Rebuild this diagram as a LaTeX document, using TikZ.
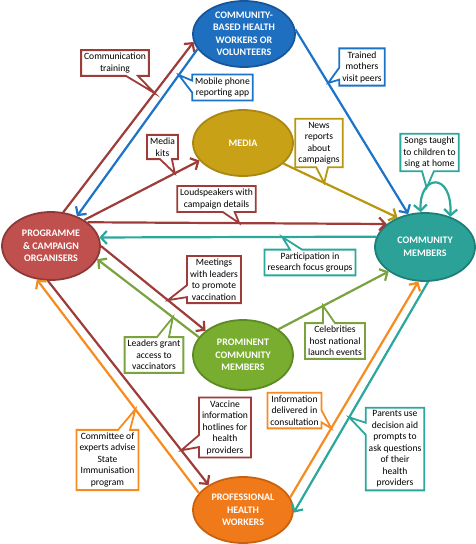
\documentclass[tikz,border=0pt]{standalone}
\usepackage{fontspec}
\setmainfont{Carlito}
\usetikzlibrary{shapes.geometric,shapes.callouts,arrows.meta}

\definecolor{chwfill}{HTML}{1F6FC1}
\definecolor{chwdark}{HTML}{17569A}
\definecolor{chwline}{HTML}{1B74C8}
\definecolor{progfill}{HTML}{C0504D}
\definecolor{progdark}{HTML}{8C3A37}
\definecolor{progline}{HTML}{9E3C39}
\definecolor{mediafill}{HTML}{C9A116}
\definecolor{mediadark}{HTML}{A88810}
\definecolor{medialine}{HTML}{B8960F}
\definecolor{commfill}{HTML}{2BA198}
\definecolor{commdark}{HTML}{1E7F78}
\definecolor{commline}{HTML}{2BA79B}
\definecolor{promfill}{HTML}{78AD2F}
\definecolor{promdark}{HTML}{5E8A25}
\definecolor{promline}{HTML}{7AA33D}
\definecolor{proffill}{HTML}{F07A1A}
\definecolor{profdark}{HTML}{C9620F}
\definecolor{profline}{HTML}{F68B1F}

\begin{document}
\begin{tikzpicture}[x=1pt,y=-1pt]
  \tikzstyle{actor}  = [ellipse,inner sep=0pt,line width=1.8pt,text=white,align=center,
                        font=\bfseries\fontsize{10}{12.5}\selectfont]
  \tikzstyle{chwV}   = [actor,draw=chwdark,fill=chwfill,minimum width=102pt,minimum height=66pt]
  \tikzstyle{progV}  = [actor,draw=progdark,fill=progfill,minimum width=98pt,minimum height=68pt]
  \tikzstyle{mediaV} = [actor,draw=mediadark,fill=mediafill,minimum width=100pt,minimum height=66pt]
  \tikzstyle{commV}  = [actor,draw=commdark,fill=commfill,minimum width=100pt,minimum height=68pt]
  \tikzstyle{promV}  = [actor,draw=promdark,fill=promfill,minimum width=100pt,minimum height=70pt]
  \tikzstyle{profV}  = [actor,draw=profdark,fill=proffill,minimum width=100pt,minimum height=66pt]
  \tikzstyle{link}   = [line width=2.2pt,-{Straight Barb[length=6pt,width=13pt]}]
  \tikzstyle{chwE}   = [link,draw=chwline]
  \tikzstyle{progE}  = [link,draw=progline]
  \tikzstyle{mediaE} = [link,draw=medialine]
  \tikzstyle{commE}  = [link,draw=commline]
  \tikzstyle{promE}  = [link,draw=promline]
  \tikzstyle{profE}  = [link,draw=profline]
  \tikzstyle{note}   = [rectangle callout,fill=white,line width=1.8pt,inner xsep=3pt,inner ysep=3pt,
                        align=center,text=black,font=\fontsize{9.6}{11.5}\selectfont,
                        callout pointer width=12pt]
  \tikzstyle{chwC}   = [note,draw=chwline]
  \tikzstyle{progC}  = [note,draw=progline]
  \tikzstyle{mediaC} = [note,draw=medialine]
  \tikzstyle{commC}  = [note,draw=commline]
  \tikzstyle{promC}  = [note,draw=promline]
  \tikzstyle{profC}  = [note,draw=profline]
  \useasboundingbox (0,0) rectangle (475,544);
  % actors
  \path (244, 34) node[chwV](chw)     {COMMUNITY-\\BASED HEALTH\\WORKERS OR\\VOLUNTEERS};
  \path (51, 246) node[progV](prog)   {PROGRAMME\\\& CAMPAIGN\\ORGANISERS};
  \path (243,143) node[mediaV](media) {MEDIA};
  \path (425,247) node[commV](comm)   {COMMUNITY\\MEMBERS};
  \path (243,355) node[promV](prom)   {PROMINENT\\COMMUNITY\\MEMBERS};
  \path (243,510) node[profV](prof)   {PROFESSIONAL\\HEALTH\\WORKERS};
  % links between actors
  \draw[progE]  (prog.70)   -- (chw.189)   coordinate[pos=0.70]  (p1);
  \draw[chwE]   (chw.198)   -- (prog.49)   coordinate[pos=0.155] (p2);
  \draw[progE]  (prog.38)   -- (media.202) coordinate[pos=0.786] (p3);
  \draw[mediaE] (media.333) -- (comm.133)  coordinate[pos=0.357] (p4);
  \draw[chwE]   (chw.5)     -- (comm.117)  coordinate[pos=0.29]  (p5);
  \draw[commE,{Straight Barb[length=6pt,width=13pt]}-{Straight Barb[length=6pt,width=13pt]}]
        (comm.97) .. controls +(-2,-38) and +(2,-46) .. (comm.50) coordinate[pos=0.3] (p6);
  \draw[progE]  (prog.33)   -- (comm.149)  coordinate[pos=0.507] (p7);
  \draw[commE]  (comm.168)  -- (prog.10)   coordinate[pos=0.34]  (p8);
  \draw[progE]  (prog.0)    -- (prom.147)  coordinate[pos=0.64]  (p9);
  \draw[promE]  (prom.158)  -- (prog.344)  coordinate[pos=0.255] (p10);
  \draw[promE]  (prom.36)   -- (comm.214)  coordinate[pos=0.405] (p11);
  \draw[progE]  (prog.265)  -- (prof.144)  coordinate[pos=0.83]  (p12);
  \draw[profE]  (prof.159)  -- (prog.247)  coordinate[pos=0.392] (p13);
  \draw[profE]  (prof.15)   -- (comm.259)  coordinate[pos=0.32]  (p14);
  \draw[commE]  (comm.275)  -- (prof.357)  coordinate[pos=0.587] (p15);
  % callouts
  \path (115, 63)   node[progC,callout absolute pointer={(p1)}](n1)    {Communication\\training};
  \path (222.5,87.5) node[chwC,callout absolute pointer={(p2)}](n2)    {Mobile phone\\reporting app};
  \path (162.5,147) node[progC,callout absolute pointer={(p3)}](n3)    {Media\\kits};
  \path (319,143)   node[mediaC,callout absolute pointer={(p4)}](n4)   {News\\reports\\about\\campaigns};
  \path (362, 67)   node[chwC,callout absolute pointer={(p5)}](n5)     {Trained\\mothers\\visit peers};
  \path (429.5,152.5) node[commC,callout absolute pointer={(p6)}](n6)  {Songs taught\\to children to\\sing at home};
  \path (216.5,199) node[progC,callout absolute pointer={(p7)}](n7)    {Loudspeakers with\\campaign details};
  \path (310,262.5) node[commC,callout absolute pointer={(p8)}](n8)    {Participation in\\research focus groups};
  \path (214,279.5) node[progC,callout absolute pointer={(p9)}](n9)    {Meetings\\with leaders\\to promote\\vaccination};
  \path (154,355)   node[promC,callout absolute pointer={(p10)}](n10)  {Leaders grant\\access to\\vaccinators};
  \path (335,341)   node[promC,callout absolute pointer={(p11)}](n11)  {Celebrities\\host national\\launch events};
  \path (225,427.5) node[progC,callout absolute pointer={(p12)}](n12)  {Vaccine\\information\\hotlines for\\health\\providers};
  \path (107.5,460) node[profC,callout absolute pointer={(p13)}](n13)  {Committee of\\experts advise\\State\\Immunisation\\program};
  \path (294.5,410.5) node[profC,callout absolute pointer={(p14)}](n14) {Information\\delivered in\\consultation};
  \path (395,449)   node[commC,callout absolute pointer={(p15)}](n15)  {Parents use\\decision aid\\prompts to\\ask questions\\of their\\health\\providers};
\end{tikzpicture}
\end{document}
